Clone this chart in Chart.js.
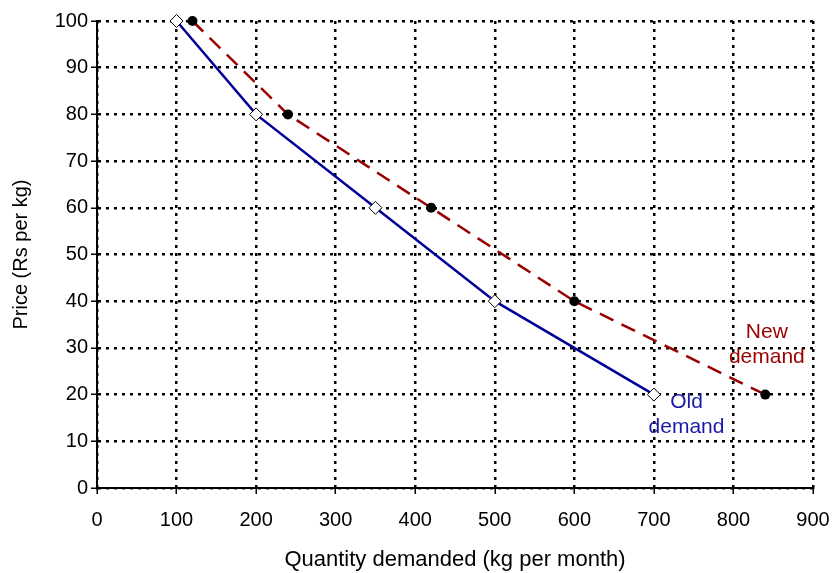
<!DOCTYPE html>
<html><head><meta charset="utf-8">
<script src="https://cdn.jsdelivr.net/npm/chart.js@4/dist/chart.umd.min.js"></script>
<style>html,body{margin:0;padding:0;background:#fff}#wrap{width:833px;height:573px}</style>
</head><body><div id="wrap"><canvas id="c" width="833" height="573"></canvas></div>
<script>
const oldQty = [100, 200, 350, 500, 700];
const oldPrice = [100, 80, 60, 40, 20];
const newQty = [120, 240, 420, 600, 840];
const newPrice = [100, 80, 60, 40, 20];
const xTitle = 'Quantity demanded (kg per month)';
const yTitle = 'Price (Rs per kg)';
const labels = [
  {lines: ['New', 'demand'], x: 842, y: 30.6, color: '#990000'},
  {lines: ['Old', 'demand'], x: 741, y: 15.8, color: '#1a1aa6'}
];
const FONT = '"Liberation Sans", Arial, sans-serif';

const textPlugin = {
  id: 'txt',
  afterDatasetsDraw(chart) {
    const ctx = chart.ctx, xs = chart.scales.x, ys = chart.scales.y;
    ctx.save();
    ctx.font = '21px ' + FONT;
    ctx.textAlign = 'center';
    ctx.textBaseline = 'middle';
    labels.forEach(l => {
      const px = xs.getPixelForValue(l.x), py = ys.getPixelForValue(l.y);
      ctx.fillStyle = l.color;
      ctx.fillText(l.lines[0], px, py - 12.5);
      ctx.fillText(l.lines[1], px, py + 12.5);
    });
    ctx.restore();
  }
};

const gridOpts = {color: '#000', lineWidth: 2.5, drawTicks: true, tickLength: 6, tickColor: '#000', tickBorderDash: [], tickWidth: 1.5};
const borderOpts = {display: true, color: '#000', width: 2, dash: [3, 5]};

new Chart(document.getElementById('c'), {
  type: 'scatter',
  data: {
    datasets: [
      {
        label: 'New demand',
        data: newQty.map((q, i) => ({x: q, y: newPrice[i]})),
        showLine: true,
        clip: false,
        borderColor: '#990000',
        borderWidth: 2.5,
        borderDash: [15, 9],
        pointStyle: 'circle',
        pointRadius: 5,
        pointBackgroundColor: '#000',
        pointBorderColor: '#000',
        pointBorderWidth: 0
      },
      {
        label: 'Old demand',
        data: oldQty.map((q, i) => ({x: q, y: oldPrice[i]})),
        showLine: true,
        clip: false,
        borderColor: '#000099',
        borderWidth: 2.5,
        pointStyle: 'rectRot',
        pointRadius: 6.5,
        pointBackgroundColor: '#fff',
        pointBorderColor: '#000',
        pointBorderWidth: 1
      }
    ]
  },
  options: {
    responsive: false,
    animation: false,
    layout: {padding: {top: 21, right: 20, left: 0, bottom: 0}},
    plugins: {legend: {display: false}, tooltip: {enabled: false}},
    scales: {
      x: {
        type: 'linear', min: 0, max: 900,
        ticks: {stepSize: 100, color: '#000', font: {family: FONT, size: 20}, padding: 14},
        grid: gridOpts,
        border: borderOpts,
        title: {display: true, text: xTitle, color: '#000', font: {family: FONT, size: 22}, padding: {top: 0, bottom: 0}},
        afterFit(s) { s.height = 85; s.paddingLeft = 0; s.paddingRight = 0; }
      },
      y: {
        type: 'linear', min: 0, max: 100,
        ticks: {stepSize: 10, color: '#000', font: {family: FONT, size: 20}, padding: 3},
        grid: gridOpts,
        border: borderOpts,
        title: {display: true, text: yTitle, color: '#000', font: {family: FONT, size: 20}, padding: {top: 9, bottom: 0}},
        afterFit(s) { s.width = 97; s.paddingTop = 0; s.paddingBottom = 0; }
      }
    }
  },
  plugins: [textPlugin]
});
</script>
</body></html>
